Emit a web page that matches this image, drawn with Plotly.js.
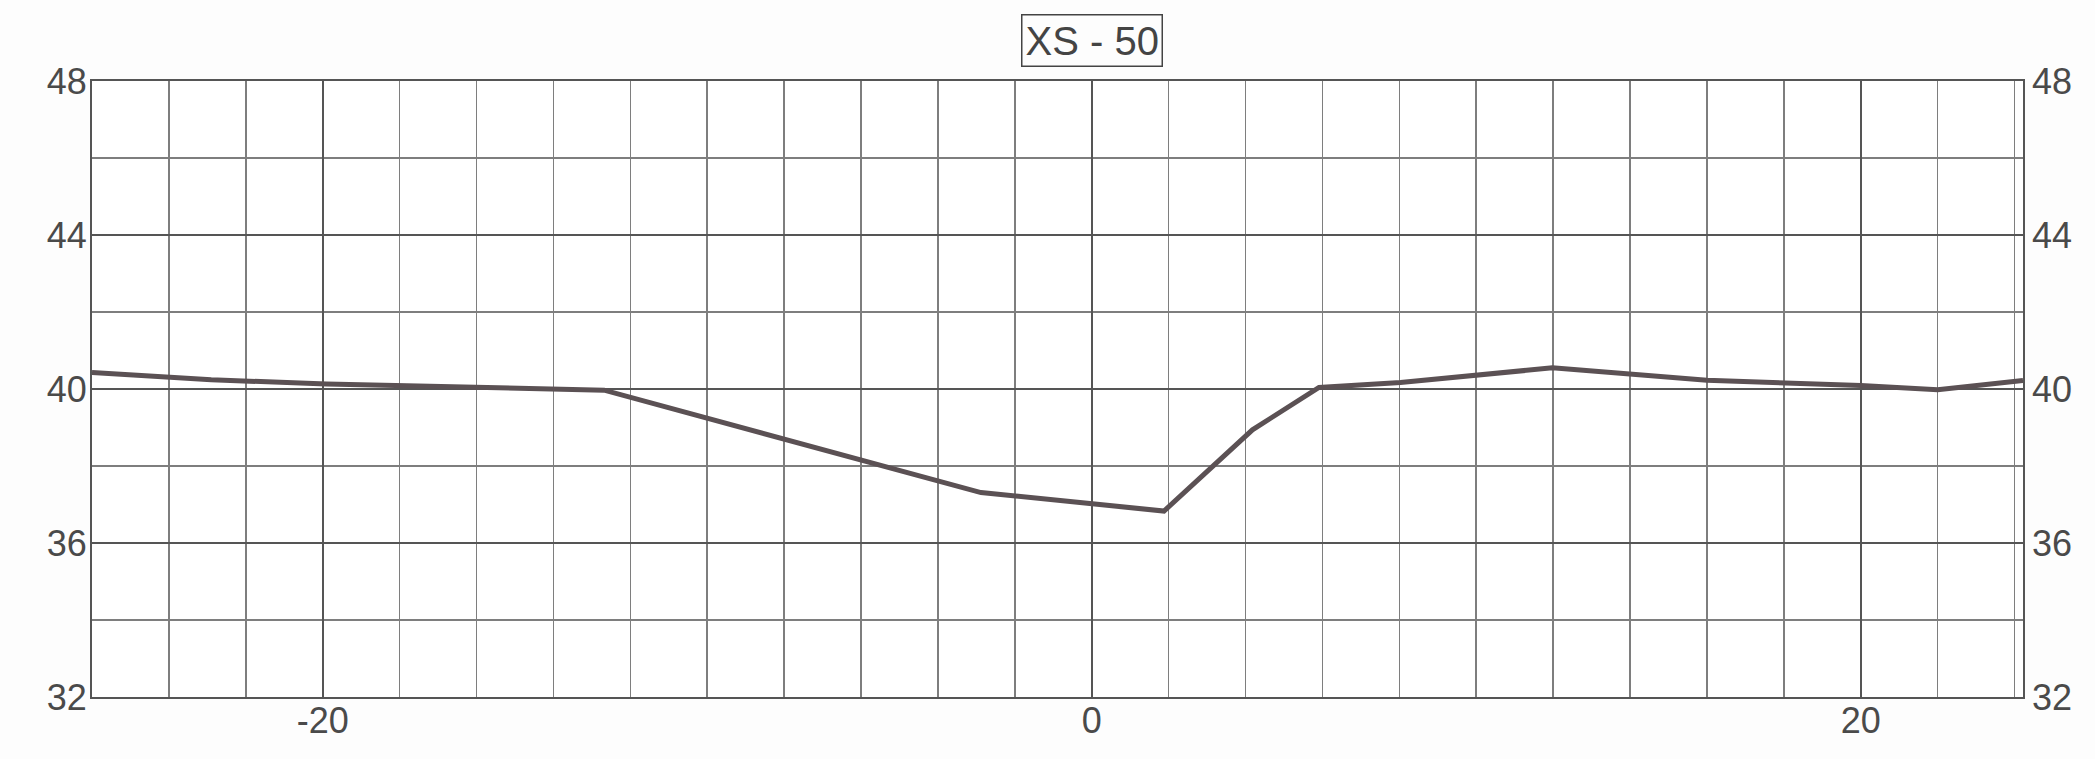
<!DOCTYPE html>
<html>
<head>
<meta charset="utf-8">
<script src="https://cdn.plot.ly/plotly-3.0.1.min.js"></script>
<style>
  html, body { margin: 0; padding: 0; background: #fdfdfd; }
  #chart { width: 2095px; height: 759px; }
</style>
</head>
<body>
<div id="chart"></div>
<script>
// Cross-section station (x) and elevation (y)
const stations = [-26, -22.9, -19.9, -16, -12.68, -2.88, 1.88, 4.18, 5.91, 8.03, 11.98, 16, 20, 22, 24.22];
const elevations = [40.43, 40.24, 40.13, 40.04, 39.97, 37.31, 36.83, 38.94, 40.04, 40.17, 40.55, 40.23, 40.09, 39.98, 40.22];

const chartTitle = "XS - 50";
const xTickVals = [-20, 0, 20];
const xTickText = ["-20", "0", "20"];
const yTickVals = [32, 36, 40, 44, 48];
const yTickText = ["32", "36", "40", "44", "48"];
const xRange = [-26, 24.22];
const yRange = [32, 48];

const lineColor = "#5b5154";
const majorGrid = "#555555";
const minorGrid = "#7e7e7e";
const textColor = "#4a4a4a";
const fontFamily = "Liberation Sans, Arial, sans-serif";

const traces = [
  {
    x: stations, y: elevations, type: "scatter", mode: "lines",
    line: { color: lineColor, width: 5 }, hoverinfo: "skip", showlegend: false
  },
  {
    x: stations, y: elevations, type: "scatter", mode: "lines", yaxis: "y2",
    line: { color: "rgba(0,0,0,0)", width: 0 }, hoverinfo: "skip", showlegend: false
  }
];

const yCommon = {
  range: yRange, tickmode: "array", tickvals: yTickVals, ticktext: yTickText,
  ticks: "",
  tickfont: { family: fontFamily, size: 36, color: textColor },
  zeroline: false
};

const layout = {
  width: 2095, height: 759,
  margin: { l: 92, r: 72, t: 81, b: 62 },
  paper_bgcolor: "#fdfdfd", plot_bgcolor: "#ffffff",
  showlegend: false,
  xaxis: {
    range: xRange, tickmode: "array", tickvals: xTickVals, ticktext: xTickText,
    ticks: "", ticklabelstandoff: -9,
    tickfont: { family: fontFamily, size: 36, color: textColor },
    showgrid: true, gridcolor: majorGrid, gridwidth: 2,
    minor: { tick0: 0, dtick: 2, showgrid: true, gridcolor: minorGrid, gridwidth: 1.5 },
    showline: true, linecolor: "#555555", linewidth: 2, mirror: true,
    zeroline: false
  },
  yaxis: Object.assign({}, yCommon, {
    side: "left", ticklabelstandoff: -4,
    showgrid: true, gridcolor: majorGrid, gridwidth: 2,
    minor: { tick0: 32, dtick: 2, showgrid: true, gridcolor: minorGrid, gridwidth: 1.5 },
    showline: true, linecolor: "#555555", linewidth: 2, mirror: true
  }),
  yaxis2: Object.assign({}, yCommon, {
    overlaying: "y", side: "right", ticklabelstandoff: 8, showgrid: false, showline: false
  }),
  annotations: [{
    text: chartTitle, xref: "x", x: 0, yref: "paper", y: 1.065,
    xanchor: "center", yanchor: "middle", showarrow: false,
    font: { family: fontFamily, size: 40, color: "#444444" },
    bordercolor: "#444444", borderwidth: 1.5, borderpad: 3, bgcolor: "rgba(0,0,0,0)"
  }]
};

Plotly.newPlot("chart", traces, layout, { staticPlot: true, displayModeBar: false });
</script>
</body>
</html>
